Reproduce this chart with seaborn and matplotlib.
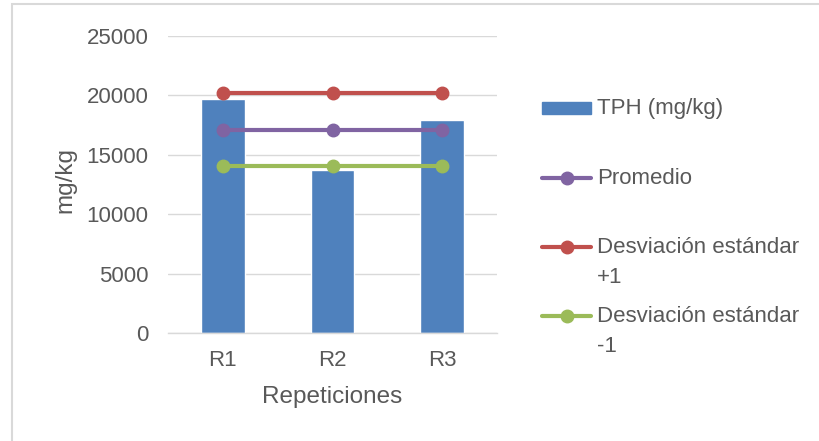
import matplotlib
matplotlib.use("Agg")
import matplotlib.pyplot as plt
from matplotlib.lines import Line2D
from matplotlib.patches import Rectangle
import seaborn as sns
import pandas as pd

# TPH per repetition and summary lines
repeticiones = ["R1", "R2", "R3"]
tph = [19700, 13750, 17900]
promedio = [17117, 17117, 17117]
desv_mas = [20168, 20168, 20168]
desv_menos = [14066, 14066, 14066]
y_ticks = [0, 5000, 10000, 15000, 20000, 25000]

BLUE = "#4F81BD"
RED = "#C0504D"
PURPLE = "#8064A2"
GREEN = "#9BBB59"
GRAY_TXT = "#595959"
GRID = "#D9D9D9"

sns.set_theme(style="white")
plt.rcParams["font.family"] = ["Liberation Sans", "DejaVu Sans"]

df = pd.DataFrame({"rep": repeticiones, "tph": tph})

fig = plt.figure(figsize=(8.19, 4.41), dpi=100)
W, H = 819, 441
ax = fig.add_axes([168 / W, 1 - 333 / H, (497 - 168) / W, (333 - 36) / H])

sns.barplot(data=df, x="rep", y="tph", color=BLUE, width=0.4,
            saturation=1, ax=ax, zorder=2)

series = [(promedio, PURPLE), (desv_mas, RED), (desv_menos, GREEN)]
for vals, col in series:
    ax.plot(range(len(repeticiones)), vals, color=col, lw=3.0,
            marker="o", ms=9, zorder=3, solid_capstyle="round")

ax.set_xlim(-0.5, 2.5)
ax.set_ylim(0, 25000)
ax.set_yticks(y_ticks)
ax.set_yticklabels([str(v) for v in y_ticks])
ax.yaxis.grid(True, color=GRID, lw=1.0, zorder=0)
ax.set_axisbelow(True)
for s in ["top", "right", "left"]:
    ax.spines[s].set_visible(False)
ax.spines["bottom"].set_color(GRID)
ax.spines["bottom"].set_linewidth(1.0)
ax.tick_params(axis="both", length=0, labelsize=16, labelcolor=GRAY_TXT)
ax.tick_params(axis="y", pad=14)
ax.tick_params(axis="x", pad=12)

ax.set_xlabel("Repeticiones", fontsize=17.5, color=GRAY_TXT, va="center")
ax.set_ylabel("mg/kg", fontsize=17.5, color=GRAY_TXT, va="center")
ax.xaxis.set_label_coords(0.5, (333 - 397) / 297)
ax.yaxis.set_label_coords((65 - 168) / 329, (333 - 180) / 297)

# Legend drawn beside the plot area
entries = [
    ("bar", BLUE, "TPH (mg/kg)", 108),
    ("line", PURPLE, "Promedio", 178),
    ("line", RED, "Desviación estándar\n+1", 247),
    ("line", GREEN, "Desviación estándar\n-1", 316),
]
hx0, hx1, tx = 542, 591, 597
for kind, col, label, yc in entries:
    yf = 1 - yc / H
    if kind == "bar":
        fig.add_artist(Rectangle((hx0 / W, 1 - (yc + 6) / H), (hx1 - hx0) / W,
                                 12 / H, color=col, transform=fig.transFigure))
    else:
        fig.add_artist(Line2D([hx0 / W, hx1 / W], [yf, yf], color=col, lw=3.0,
                              solid_capstyle="round", transform=fig.transFigure))
        fig.add_artist(Line2D([(hx0 + hx1) / 2 / W], [yf], color=col, marker="o",
                              ms=9, transform=fig.transFigure))
    fig.text(tx / W, yf + 10 / H, label, fontsize=16, color=GRAY_TXT,
             ha="left", va="top", linespacing=1.55)

# Chart frame
fig.add_artist(Rectangle((12 / W, -0.05), 1.2, 1 - 4 / H + 0.05, fill=False,
                         edgecolor=GRID, lw=1.5, transform=fig.transFigure))

fig.savefig("out.png", dpi=100, facecolor="white")
